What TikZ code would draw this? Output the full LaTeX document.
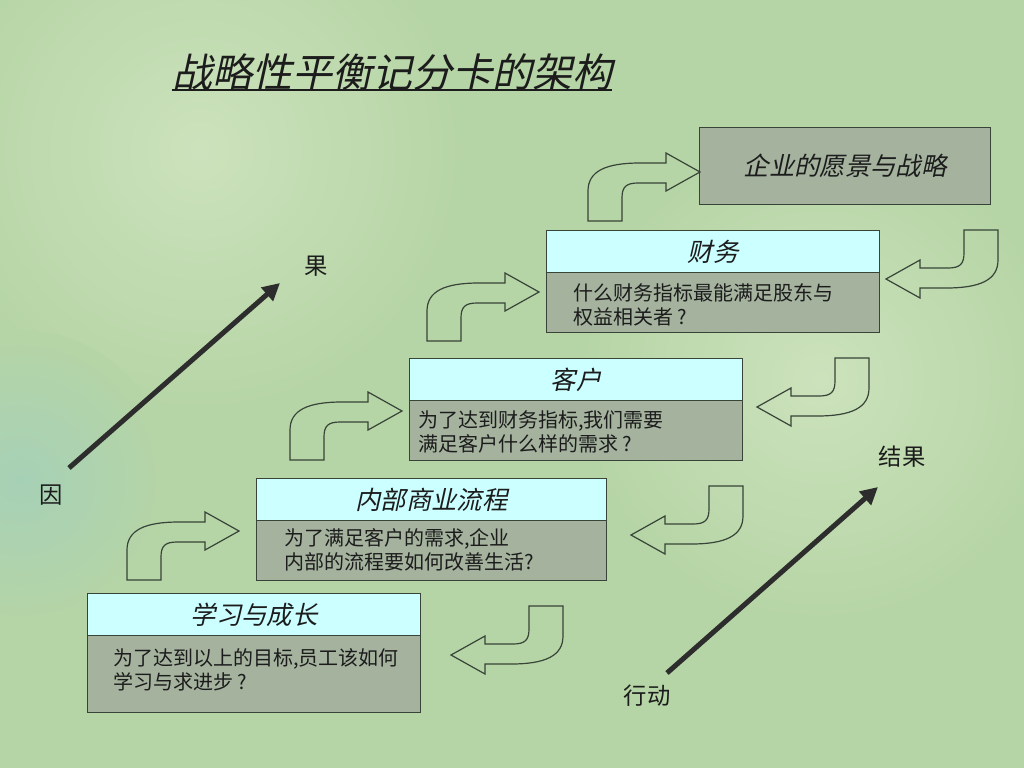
\documentclass[tikz,border=0pt]{standalone}
\usepackage{fontspec}
\setmainfont{Noto Sans CJK SC}
\newfontfamily\cjk{Noto Sans CJK SC}
\newfontfamily\cjkit[FakeSlant=0.22]{Noto Sans CJK SC}
\usetikzlibrary{arrows.meta}
\definecolor{bg}{RGB}{182,213,166}
\definecolor{bglight}{RGB}{204,226,188}
\definecolor{bgteal}{RGB}{166,208,182}
\definecolor{hdrfill}{RGB}{204,255,255}
\definecolor{bodyfill}{RGB}{164,178,158}
\definecolor{edge}{RGB}{55,68,55}
\definecolor{ink}{RGB}{28,28,28}
\definecolor{darrow}{RGB}{45,45,45}
\begin{document}
\begin{tikzpicture}[x=0.75pt,y=-0.75pt,
  hdrbox/.style n args={2}{draw=edge, line width=0.8pt, fill=hdrfill, anchor=north west, inner sep=0pt,
     minimum width=#1*0.75pt, minimum height=#2*0.75pt, text=ink, font=\cjkit\fontsize{19pt}{22pt}\selectfont},
  bodybox/.style n args={2}{draw=edge, line width=0.8pt, fill=bodyfill, anchor=north west, inner sep=0pt,
     minimum width=#1*0.75pt, minimum height=#2*0.75pt},
  bodytext/.style={anchor=west, inner sep=0pt, align=left, text=ink, font=\cjk\fontsize{15pt}{18pt}\selectfont},
  lbl/.style={inner sep=0pt, text=ink, font=\cjk\fontsize{17.5pt}{20pt}\selectfont},
  bigarrow/.style={draw=darrow, line width=3.75pt, -{Triangle[length=13pt,width=13pt]}},
  bentline/.style={draw=edge, line width=0.9pt, line join=miter},
  bentarr/.pic={\draw[bentline] (0,0) -- (34,0) -- (34,-23) .. controls (34,-34) and (38,-38) .. (50,-38)
      -- (78,-38) -- (78,-30) -- (112,-49) -- (78,-68) -- (78,-58) -- (52,-58)
      .. controls (18,-58) and (0,-50) .. (0,-30) -- cycle;}
]
\useasboundingbox (0,0) rectangle (1024,768);
% background
\fill[bg] (0,0) rectangle (1024,768);
\shade[inner color=bglight, outer color=bg] (200,150) circle (260);
\shade[inner color=bglight, outer color=bg] (820,380) circle (240);
\shade[inner color=bgteal, outer color=bg] (20,480) circle (150);

% title
\node[inner sep=0pt, text=ink, font=\cjkit\fontsize{30pt}{34pt}\selectfont] (title) at (392,72) {战略性平衡记分卡的架构};
\coordinate (ul) at (0,90);
\draw[ink, line width=1.2pt] (title.west |- ul) -- (title.east |- ul);

% vision box
\node[bodybox={291}{77}, text=ink, font=\cjkit\fontsize{19pt}{22pt}\selectfont] (vision) at (699,127) {企业的愿景与战略};

% finance
\node[hdrbox={333}{42}] (fin-h) at (546,230) {财务};
\node[bodybox={333}{60}] (fin-b) at (546,272) {};
\node[bodytext] (fin-t) at (573,305) {什么财务指标最能满足股东与\\权益相关者 ?};

% customer
\node[hdrbox={333}{42}] (cus-h) at (409,358) {客户};
\node[bodybox={333}{60}] (cus-b) at (409,400) {};
\node[bodytext] (cus-t) at (418,432) {为了达到财务指标,我们需要\\满足客户什么样的需求 ?};

% internal
\node[hdrbox={350}{42}] (int-h) at (256,478) {内部商业流程};
\node[bodybox={350}{60}] (int-b) at (256,520) {};
\node[bodytext] (int-t) at (284,550) {为了满足客户的需求,企业\\内部的流程要如何改善生活?};

% learning
\node[hdrbox={333}{42}] (lrn-h) at (87,593) {学习与成长};
\node[bodybox={333}{77}] (lrn-b) at (87,635) {};
\node[bodytext] (lrn-t) at (113,670) {为了达到以上的目标,员工该如何\\学习与求进步 ?};

% bent arrows up-right
\pic at (127,580) {bentarr};
\pic at (290,460) {bentarr};
\pic at (427,341) {bentarr};
\pic at (588,221) {bentarr};
% return arrows
\pic[rotate=180] at (998,230) {bentarr};
\pic[rotate=180] at (869,358) {bentarr};
\pic[rotate=180] at (743,486) {bentarr};
\pic[rotate=180] at (563,606) {bentarr};

% cause / effect
\node[lbl] (guo) at (316,266) {果};
\node[lbl] (yin) at (51,495) {因};
\coordinate (c1s) at (69,468);
\coordinate (c1e) at (280,283);
\draw[bigarrow] (c1s) -- (c1e);

\node[lbl] (jieguo) at (902,457) {结果};
\node[lbl] (xingdong) at (647,696) {行动};
\coordinate (c2s) at (667,673);
\coordinate (c2e) at (878,487);
\draw[bigarrow] (c2s) -- (c2e);
\end{tikzpicture}
\end{document}
